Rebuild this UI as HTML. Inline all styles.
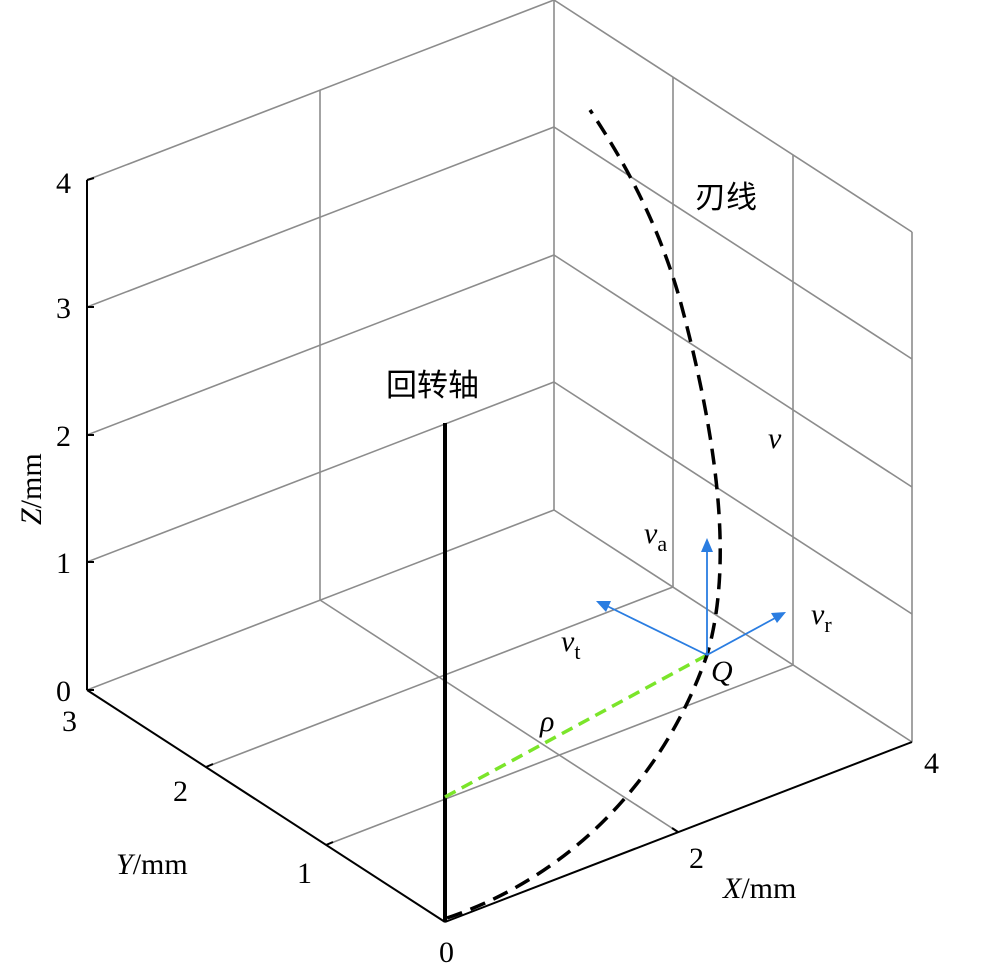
<!DOCTYPE html>
<html><head><meta charset="utf-8"><style>
html,body{margin:0;padding:0;background:#fff;}
svg{display:block;}
text{font-family:"Liberation Serif","Noto Serif CJK SC",serif;font-size:30px;fill:#000;}
.cjk{font-family:"Liberation Sans","Noto Sans CJK SC",sans-serif;font-size:31px;}
</style></head><body>
<svg width="1000" height="972" viewBox="0 0 1000 972" xmlns="http://www.w3.org/2000/svg">
<g stroke="#8c8c8c" stroke-width="1.6" fill="none">
<line x1="87" y1="690" x2="87" y2="180"/>
<line x1="320" y1="600" x2="320" y2="90"/>
<line x1="554" y1="510" x2="554" y2="0"/>
<line x1="87" y1="562" x2="554" y2="382"/>
<line x1="87" y1="435" x2="554" y2="255"/>
<line x1="87" y1="307" x2="554" y2="127"/>
<line x1="87" y1="180" x2="554" y2="0"/>
<line x1="912" y1="742" x2="912" y2="232"/>
<line x1="793" y1="665" x2="793" y2="155"/>
<line x1="673" y1="587" x2="673" y2="77"/>
<line x1="554" y1="382" x2="912" y2="614"/>
<line x1="554" y1="255" x2="912" y2="487"/>
<line x1="554" y1="127" x2="912" y2="359"/>
<line x1="554" y1="0" x2="912" y2="232"/>
<line x1="87" y1="690" x2="554" y2="510"/>
<line x1="554" y1="510" x2="912" y2="742"/>
<line x1="678" y1="832" x2="320" y2="600"/>
<line x1="326" y1="845" x2="793" y2="665"/>
<line x1="206" y1="767" x2="673" y2="587"/>
</g>
<g stroke="#000" stroke-width="2" fill="none">
<line x1="445" y1="922" x2="912" y2="742"/>
<line x1="445" y1="922" x2="87" y2="690"/>
<line x1="87" y1="690" x2="87" y2="180"/>
<line x1="87" y1="690" x2="94" y2="690"/><line x1="87" y1="562" x2="94" y2="562"/>
<line x1="87" y1="435" x2="94" y2="435"/><line x1="87" y1="307" x2="94" y2="307"/>
<line x1="87" y1="180" x2="94" y2="178"/>
<line x1="678" y1="832" x2="672" y2="828"/><line x1="206" y1="767" x2="213" y2="764"/><line x1="326" y1="845" x2="333" y2="842"/>
</g>
<line x1="445" y1="922" x2="445" y2="423" stroke="#000" stroke-width="4"/>
<line x1="445" y1="797" x2="707" y2="655" stroke="#7be52a" stroke-width="3.5" stroke-dasharray="12,7"/>
<path d="M447,918 C560,880 660,790 707,655 C735,560 715,430 680,300 C660,230 630,170 590,110" stroke="#000" stroke-width="3.5" fill="none" stroke-dasharray="16,9"/>
<g stroke="#2a7de1" stroke-width="1.8" fill="#2a7de1">
<line x1="707" y1="655" x2="707" y2="548"/><polygon points="707,538 701,552 713,552" stroke="none"/>
<line x1="707" y1="655" x2="605" y2="605"/><polygon points="596,601 606,612 611,601" stroke="none"/>
<line x1="707" y1="655" x2="777" y2="617"/><polygon points="786,612 771,613 777,623" stroke="none"/>
</g>
<text x="56" y="701">0</text><text x="56" y="573">1</text><text x="56" y="446">2</text><text x="56" y="318">3</text><text x="56" y="193">4</text>
<text x="62" y="731">3</text><text x="173" y="801">2</text><text x="297" y="883">1</text>
<text x="439" y="962">0</text><text x="689" y="868">2</text><text x="924" y="773">4</text>
<text transform="translate(41,525) rotate(-90)"><tspan font-style="italic">Z</tspan>/mm</text>
<text x="116" y="874"><tspan font-style="italic">Y</tspan>/mm</text>
<text x="723" y="898"><tspan font-style="italic">X</tspan>/mm</text>
<text class="cjk" x="386" y="396">回转轴</text>
<text class="cjk" x="695" y="208">刃线</text>
<text x="768" y="448" font-style="italic">v</text>
<text x="644" y="543" font-style="italic">v<tspan font-style="normal" font-size="22" dy="8">a</tspan></text>
<text x="561" y="651" font-style="italic">v<tspan font-style="normal" font-size="22" dy="8">t</tspan></text>
<text x="811" y="624" font-style="italic">v<tspan font-style="normal" font-size="22" dy="8">r</tspan></text>
<text x="711" y="681" font-style="italic">Q</text>
<text x="540" y="731" font-style="italic">ρ</text>
</svg>
</body></html>
